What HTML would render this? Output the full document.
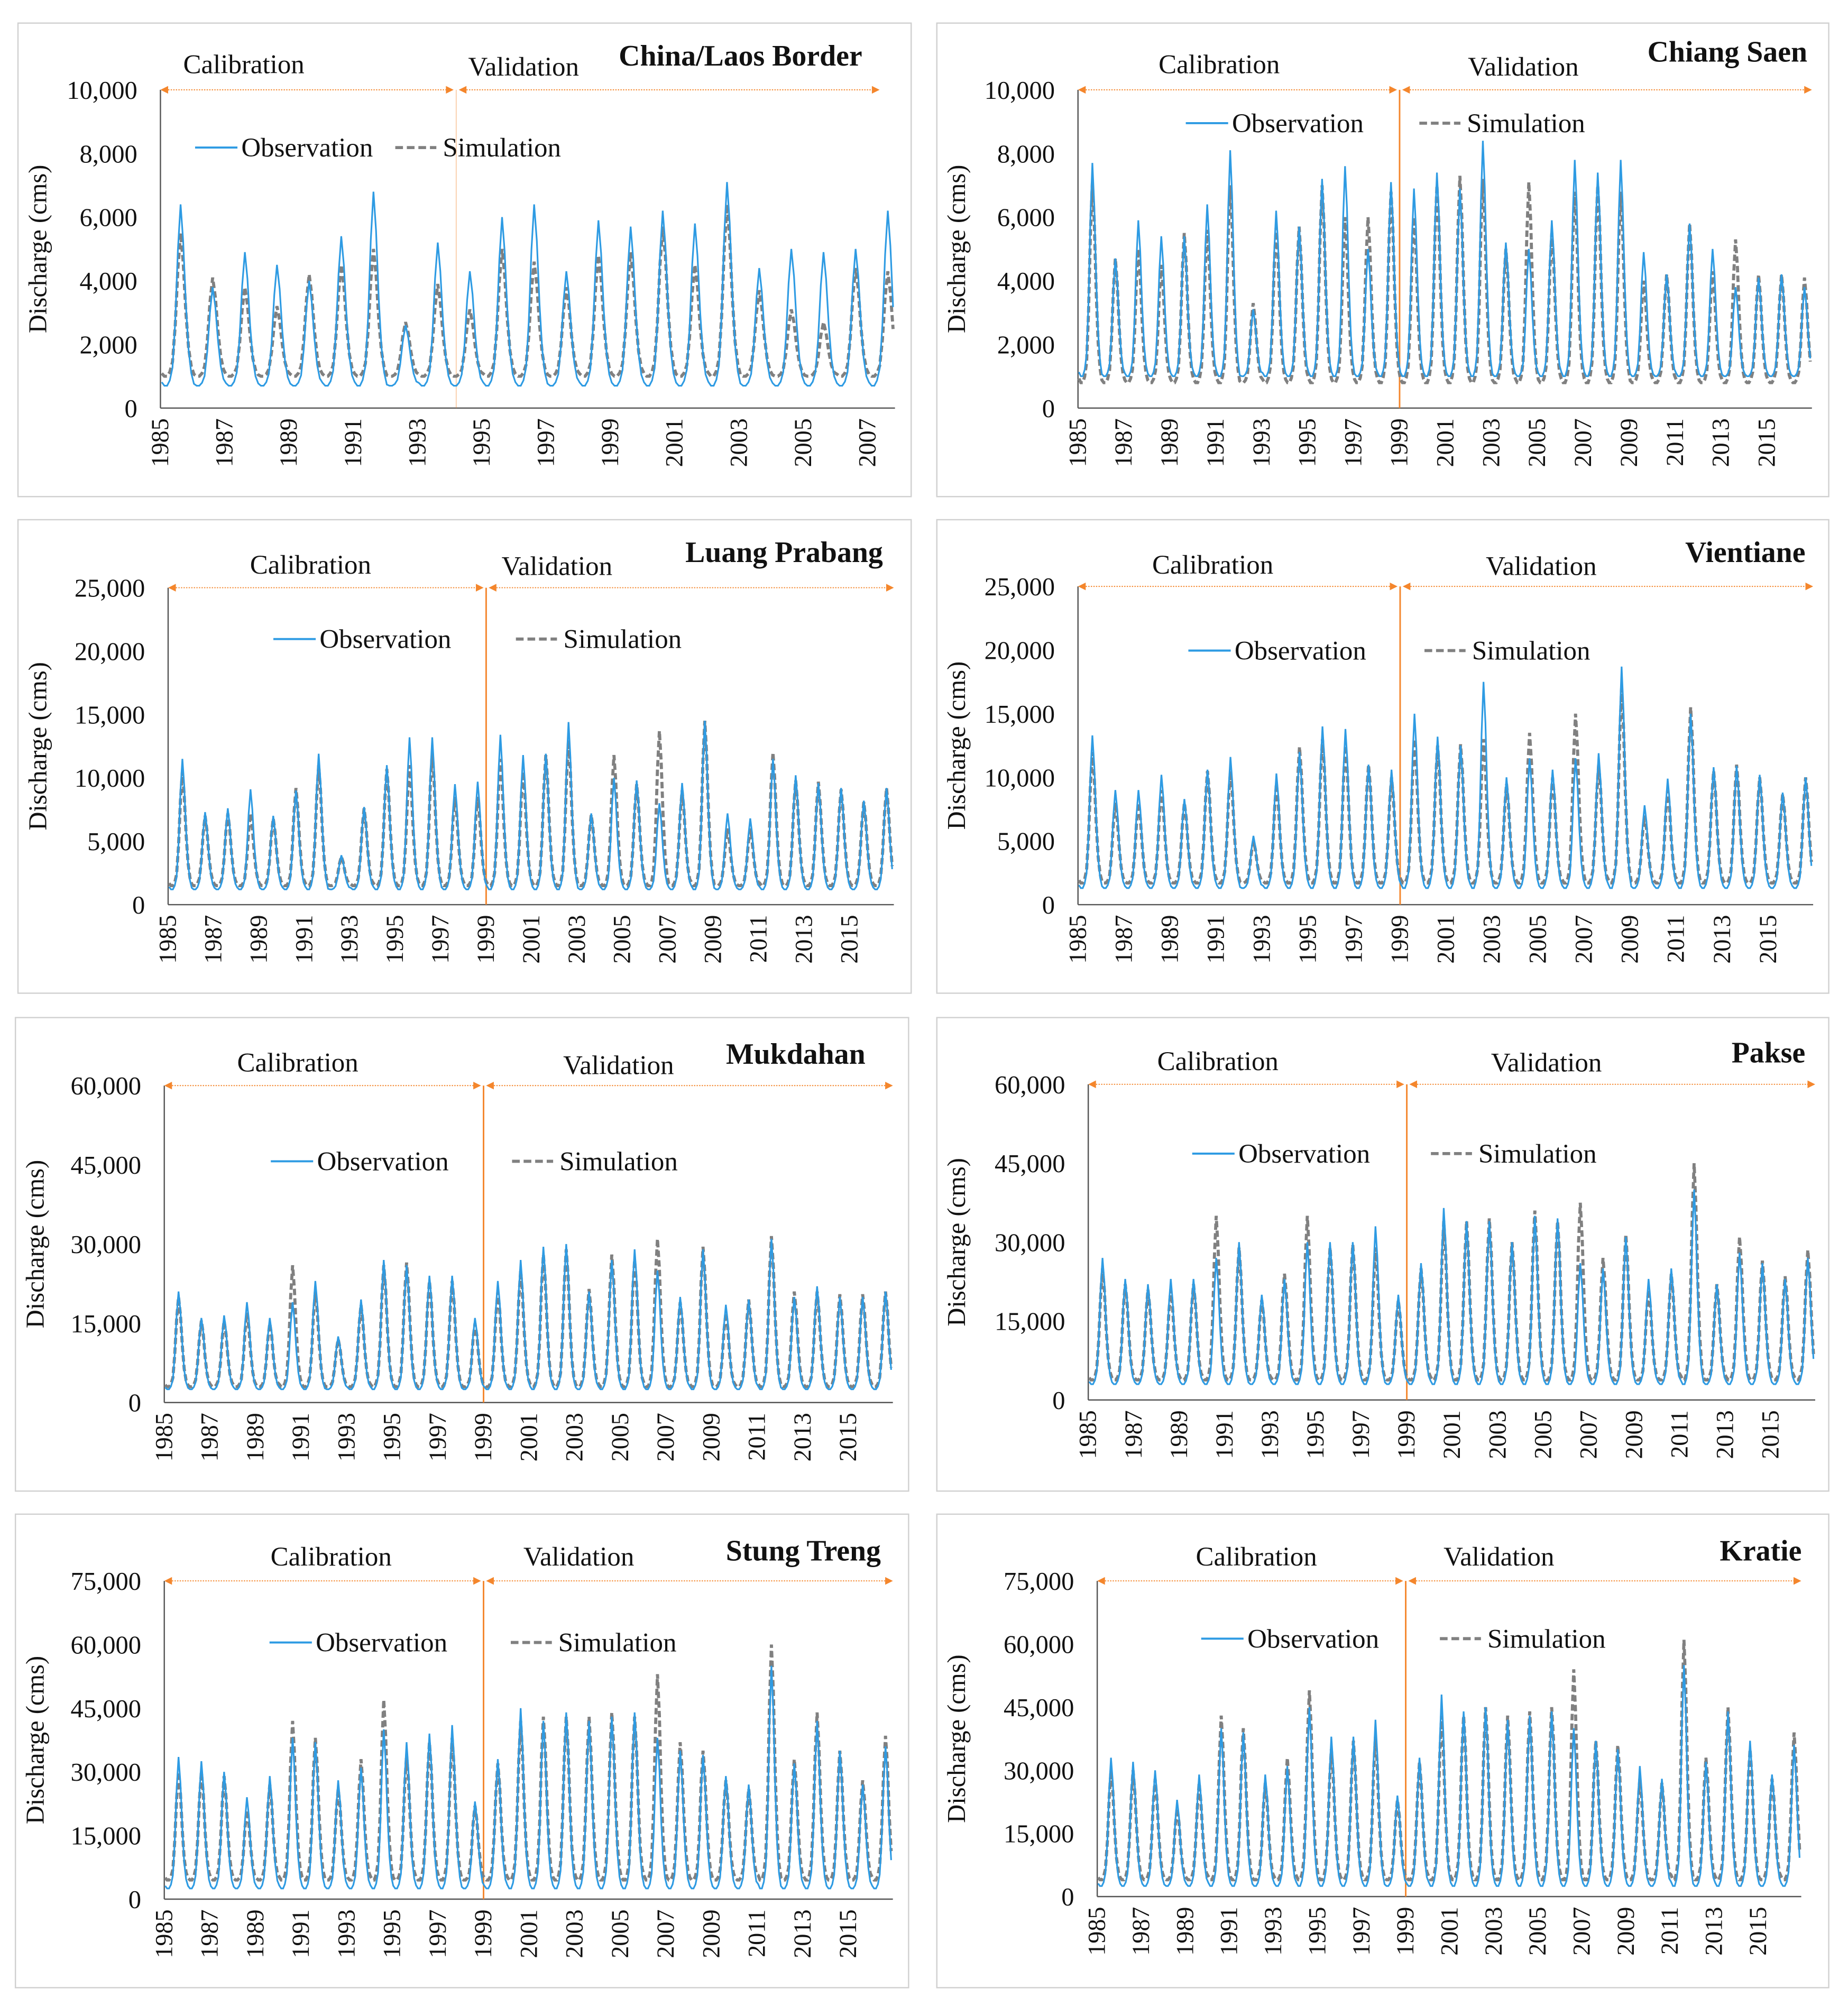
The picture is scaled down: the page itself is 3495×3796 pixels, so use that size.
<!DOCTYPE html>
<html><head><meta charset="utf-8"><style>
html,body{margin:0;padding:0;background:#fff;}
svg text{font-family:"Liberation Serif",serif;fill:#111;}
</style></head><body>
<svg id="chart" xmlns="http://www.w3.org/2000/svg" width="3495" height="3791" viewBox="0 0 1440 1562"></svg>
<script>
// ---- data: annual flood peaks and dry-season base (cms) per station ----
const startYear = 1985;
const cl_obs = [6400,3800,4900,4500,4000,5400,6800,2600,5200,4300,6000,6400,4300,5900,5700,6200,5800,7100,4400,5000,4900,5000,6200];
const cl_sim = [5500,4100,3800,3200,4200,4500,5000,2700,3900,3100,5000,4600,3800,4800,4900,5700,4500,6400,3700,3100,2700,4400,4300];
const cl_base = [700,1000];
const cs_obs = [7700,4700,5900,5400,5400,6400,8100,3100,6200,5700,7200,7600,5000,7100,6900,7400,6900,8400,5200,5000,5900,7800,7400,7800,4900,4200,5800,5000,3800,4100,4200,3800];
const cs_sim = [7100,4700,5000,4500,5500,5600,7000,3300,5700,5700,7000,6000,6000,6800,6000,7000,7300,7200,5000,7100,5500,6800,7000,6800,4000,4200,5800,4300,5300,4200,4200,4100];
const cs_base = [1000,800];
const lp_obs = [11500,7300,7600,9100,7000,9000,11900,3900,7700,11000,13200,13200,9500,9700,13400,11800,11900,14400,7200,10000,9800,8000,9600,14500,7200,6800,11500,10200,9600,9200,8200,9200];
const lp_sim = [10500,7000,7200,7200,6800,9200,11000,3800,7600,10700,11000,12000,8500,8500,11500,10500,11800,13000,7100,11800,9500,13700,9000,14500,6000,6000,12000,9800,9700,9100,8100,9200];
const lp_base = [1200,1500];
const vt_obs = [13300,9000,9000,10200,8300,10600,11600,5400,10300,12000,14000,13800,11000,10600,15000,13200,12500,17500,10000,11500,10600,11500,11900,18700,7800,9900,15000,10800,10900,10200,8800,10000];
const vt_sim = [12000,8000,8000,9000,8000,10500,10500,5000,9500,12400,13000,12500,11000,10000,13000,12500,12600,13000,9500,13500,10000,15000,11000,17000,7000,9000,15500,10500,11000,10000,8700,10000];
const vt_base = [1300,1700];
const mk_obs = [21000,16000,16500,19000,16000,19000,23000,12500,19500,27000,26000,24000,24000,16000,23000,27000,29500,30000,21000,27000,29000,25000,20000,29000,18500,19500,31000,20000,22000,20000,20000,21000];
const mk_sim = [20000,15500,15500,17000,15000,26000,21000,12000,18500,26000,26500,23000,23000,15000,21000,25000,28000,29000,21500,28000,27000,31000,19000,29500,17000,19500,31500,21000,21000,20500,20500,21000];
const mk_base = [2500,3000];
const pk_obs = [27000,23000,22000,23000,23000,27000,30000,20000,23000,30000,30000,30000,33000,20000,26000,36500,34000,34000,30000,35000,34500,26000,25000,31000,23000,25000,40000,22000,28000,26000,23000,27000];
const pk_sim = [25000,22000,21000,21000,22000,35000,29000,19000,24000,35000,29000,29500,29000,19000,25000,34000,34000,34500,30000,36000,34000,37500,27000,31500,21000,24000,45000,22000,31000,26500,23500,28500];
const pk_base = [3000,3800];
const st_obs = [33500,32500,30000,24000,29000,38000,37000,28000,31000,40000,37000,39000,41000,23000,33000,45000,42000,44000,42000,43000,44000,38000,35000,34000,29000,27000,55000,32000,42000,35000,27000,36000];
const st_sim = [30000,30000,29000,21000,27000,42000,38000,26000,33000,47000,34000,37000,38000,22000,32000,42000,43000,43000,43000,44000,43000,53000,37000,35000,28000,26000,60000,33000,44000,35000,28000,38500];
const st_base = [2500,4500];
const kr_obs = [33000,32000,30000,23000,29000,40000,39000,29000,31000,45000,38000,38000,42000,24000,33000,48000,44000,45000,42000,43000,44000,40000,37000,35000,31000,28000,55000,32000,44000,37000,29000,36000];
const kr_sim = [30000,30000,28000,21000,27000,43000,40000,27000,33000,49000,35000,37000,38000,23000,32000,43000,43000,45000,43000,44000,45000,54000,37000,36000,28000,27000,61000,33000,45000,35000,28000,39000];
const kr_base = [2500,4000];
const yMaxes = [10000,10000,25000,25000,60000,60000,75000,75000];
const ySteps = [2000,2000,5000,5000,15000,15000,15000,15000];
const titles = ["China/Laos Border","Chiang Saen","Luang Prabang","Vientiane","Mukdahan","Pakse","Stung Treng","Kratie"];
const valYear = [1994.2,1999,1999,1999,1999,1999,1999,1999];
const endYears = [2007.85,2016.95,2016.95,2016.95,2016.95,2016.95,2016.95,2016.95];
const lastTick = [2007,2015,2015,2015,2015,2015,2015,2015];
const obsData=[cl_obs,cs_obs,lp_obs,vt_obs,mk_obs,pk_obs,st_obs,kr_obs];
const simData=[cl_sim,cs_sim,lp_sim,vt_sim,mk_sim,pk_sim,st_sim,kr_sim];
const baseData=[cl_base,cs_base,lp_base,vt_base,mk_base,pk_base,st_base,kr_base];
// seasonal profile (fraction of flood rise per month)
const monthShape=[0.02,0,0,0.03,0.1,0.35,0.75,1,0.8,0.45,0.2,0.07];

// ---- layout ----
const L=[
 {box:[14,18,696,369],x0:125,ppy:25.05,y0:318,y1:70,cal:[190,50],val:[408,52],title:[577,43],lg:[115,152,308]},
 {box:[730,18,695,369],x0:840,ppy:17.9,y0:318,y1:70,cal:[950,50],val:[1187,52],title:[1346,40],lg:[96,924,1106]},
 {box:[14,405,696,369],x0:131,ppy:17.7,y0:705,y1:458,cal:[242,440],val:[434,441],title:[611,430],lg:[498,213,402]},
 {box:[730,405,695,369],x0:840,ppy:17.93,y0:705,y1:457,cal:[945,440],val:[1201,441],title:[1360,430],lg:[507,926,1110]},
 {box:[12,793,696,369],x0:128,ppy:17.77,y0:1093,y1:846,cal:[232,828],val:[482,830],title:[620,821],lg:[905,211,399]},
 {box:[730,793,695,369],x0:848,ppy:17.73,y0:1091,y1:845,cal:[949,827],val:[1205,828],title:[1378,820],lg:[899,929,1115]},
 {box:[12,1180,696,369],x0:128,ppy:17.77,y0:1480,y1:1232,cal:[258,1213],val:[451,1213],title:[626,1208],lg:[1280,210,398]},
 {box:[730,1180,695,369],x0:855,ppy:17.17,y0:1478,y1:1232,cal:[979,1213],val:[1168,1213],title:[1372,1208],lg:[1277,936,1122]}
];
const NS="http://www.w3.org/2000/svg";
const svg=document.getElementById('chart');
function mk(tag,attrs,parent,text){const e=document.createElementNS(NS,tag);for(const k in attrs)e.setAttribute(k,attrs[k]);if(text!==undefined)e.textContent=text;(parent||svg).appendChild(e);return e;}
const BLUE="#2e9be3",GRAY="#808080",OR="#f4862c";
L.forEach((c,i)=>{
  const g=mk('g',{});
  
  
  const fr=mk('rect',{x:c.box[0],y:c.box[1],width:c.box[2],height:c.box[3],fill:'none',stroke:'#d0d0d0','stroke-width':1},g);
  
  
  const tx=y=>c.x0+(y-startYear)*c.ppy;
  const x1=tx(endYears[i]);
  const ty=v=>c.y0-(v/yMaxes[i])*(c.y0-c.y1);
  const ya=mk('line',{x1:c.x0,y1:c.y1,x2:c.x0,y2:c.y0,stroke:'#555','stroke-width':1},g);
  
  
  const xa=mk('line',{x1:c.x0,y1:c.y0,x2:x1,y2:c.y0,stroke:'#555','stroke-width':1},g);
  
  
  for(let v=0;v<=yMaxes[i];v+=ySteps[i]){
    const t=mk('text',{x:c.x0-18,y:ty(v)+7,'text-anchor':'end','font-size':20},g,v.toLocaleString('en-US'));
    
    
  }
  for(let yr=startYear;yr<=lastTick[i];yr+=2){
    const x=tx(yr);
    const t=mk('text',{x:0,y:0,'text-anchor':'end','font-size':19,transform:`translate(${x+6},${c.y0+8}) rotate(-90)`},g,String(yr));
    
    
  }
  const yl=mk('text',{x:0,y:0,'text-anchor':'middle','font-size':20,transform:`translate(${c.box[0]+22},${(c.y0+c.y1)/2}) rotate(-90)`},g,'Discharge (cms)');
  
  
  const vx=tx(valYear[i]);
  const vl=mk('line',{x1:vx,y1:c.y1,x2:vx,y2:c.y0,stroke:OR,'stroke-width':i===0?0.6:1.2,opacity:i===0?0.5:1},g);
  
  
  const ay=c.y1;
  [[c.x0,vx-2],[vx+2,x1-(i===0?12:0)]].forEach((seg,k)=>{
    const a=mk('line',{x1:seg[0]+4,y1:ay,x2:seg[1]-4,y2:ay,stroke:OR,'stroke-width':0.8,'stroke-dasharray':'1 1'},g);
    
    
    mk('path',{d:`M${seg[0]},${ay} l6,-3 v6 z M${seg[1]},${ay} l-6,-3 v6 z`,fill:OR},g);
  });
  const ct=mk('text',{x:c.cal[0],y:c.cal[1]+7,'text-anchor':'middle','font-size':21},g,'Calibration');
  
  
  const vt=mk('text',{x:c.val[0],y:c.val[1]+7,'text-anchor':'middle','font-size':21},g,'Validation');
  
  
  const tt=mk('text',{x:c.title[0],y:c.title[1]+8,'text-anchor':'middle','font-size':23,'font-weight':'bold'},g,titles[i]);
  
  
  const ly=c.lg[0];
  const lo=mk('line',{x1:c.lg[1],y1:ly,x2:c.lg[1]+33,y2:ly,stroke:BLUE,'stroke-width':1.6},g);
  
  
  const lot=mk('text',{x:c.lg[1]+36,y:ly+7,'font-size':21},g,'Observation');
  
  
  const ls=mk('line',{x1:c.lg[2],y1:ly,x2:c.lg[2]+32,y2:ly,stroke:GRAY,'stroke-width':2.4,'stroke-dasharray':'6 3'},g);
  
  
  const lst=mk('text',{x:c.lg[2]+37,y:ly+7,'font-size':21},g,'Simulation');
  
  
  function series(peaks,base){
    const pts=[];
    peaks.forEach((p,yi)=>{
      monthShape.forEach((f,m)=>{
        const t=startYear+yi+(m+0.5)/12;
        if(t<=endYears[i]) pts.push([tx(t),ty(base+(p-base)*f)]);
      });
    });
    return 'M'+pts.map(p=>p[0].toFixed(1)+','+p[1].toFixed(1)).join(' L');
  }
  const sp=mk('path',{d:series(simData[i],baseData[i][1]),fill:'none',stroke:GRAY,'stroke-width':2.4,'stroke-dasharray':'5 2.5'},g);
  
  
  const op=mk('path',{d:series(obsData[i],baseData[i][0]),fill:'none',stroke:BLUE,'stroke-width':1.3},g);
  
  
});
</script>
</body></html>
